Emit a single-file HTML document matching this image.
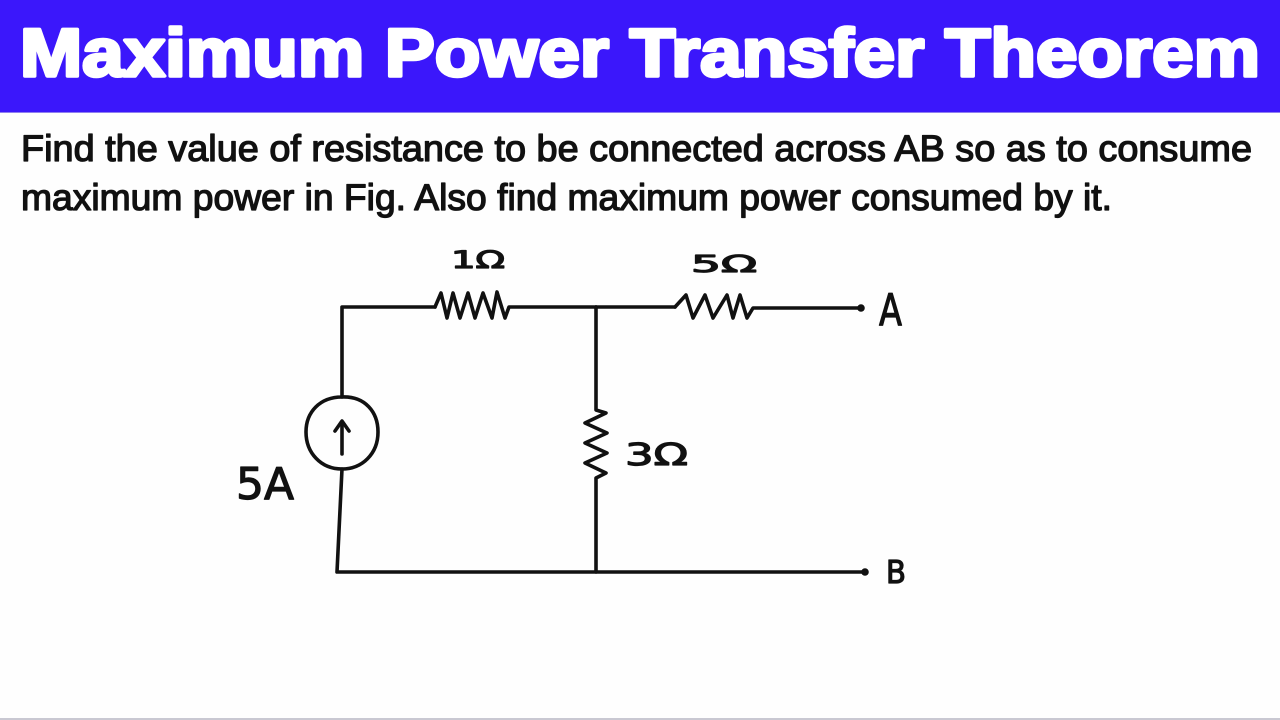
<!DOCTYPE html>
<html>
<head>
<meta charset="utf-8">
<style>
html,body{margin:0;padding:0;background:#fff;}
body{width:1280px;height:720px;overflow:hidden;position:relative;}
svg{position:absolute;left:0;top:0;}
</style>
</head>
<body>
<svg width="1280" height="720" viewBox="0 0 1280 720" xmlns="http://www.w3.org/2000/svg">
  <rect x="0" y="0" width="1280" height="720" fill="#fefefe"/>
  <rect x="0" y="0" width="1280" height="112" fill="#3b17fb"/>
  <line x1="0" y1="112.5" x2="1280" y2="112.5" stroke="#8f7ff0" stroke-width="1"/>
  <text x="20" y="76" font-family="Liberation Sans, sans-serif" font-weight="bold" font-size="68" fill="#ffffff" stroke="#ffffff" stroke-width="3.5" stroke-linejoin="round" textLength="1240" lengthAdjust="spacingAndGlyphs">Maximum Power Transfer Theorem</text>

  <g font-family="Liberation Sans, sans-serif" font-size="37" fill="#111" stroke="#111" stroke-width="1.3" stroke-linejoin="round">
    <text x="21" y="161" textLength="1231" lengthAdjust="spacingAndGlyphs">Find the value of resistance to be connected across AB so as to consume</text>
    <text x="21" y="210" textLength="1091" lengthAdjust="spacingAndGlyphs">maximum power in Fig. Also find maximum power consumed by it.</text>
  </g>

  <g fill="none" stroke="#111" stroke-width="3.6" stroke-linecap="round" stroke-linejoin="round">
    <polyline points="342,397 342,307 435,307"/>
    <polyline points="435,307 441,293 447,318 453,293 460,318 468,293 475,318 483,293 492,318 497,292 505,318 509,307 596,307"/>
    <polyline points="596,307 675,307"/>
    <polyline points="675,307 686,295 693,318 705,295 713,318 727,295 733,318 740,295 747,318 753,308 861,308"/>
    <polyline points="596,307 596,410 606,413 585,423 607,433 585,443 607,453 585,463 606,473 596,478 596,572"/>
    <path d="M342,397 C365,396 378,412 378,432 C378,454 362,469 342,469 C321,469 306,453 306,432 C306,412 320,397 342,397 Z"/>
    <line x1="342" y1="454" x2="342" y2="422"/>
    <polyline points="335,431 342,421 349,431"/>
    <polyline points="342,469 337,572 865,572"/>
  </g>
  <circle cx="861" cy="308" r="3.8" fill="#111"/>
  <circle cx="865" cy="572" r="3.8" fill="#111"/>

  <g font-family="DejaVu Sans, sans-serif" fill="#111" stroke="#111" stroke-width="1.2" stroke-linejoin="round">
    <text x="451" y="268" font-size="24" textLength="54" lengthAdjust="spacingAndGlyphs">1Ω</text>
    <text x="691" y="272" font-size="23" textLength="66" lengthAdjust="spacingAndGlyphs">5Ω</text>
    <text x="625" y="465" font-size="30" textLength="63" lengthAdjust="spacingAndGlyphs">3Ω</text>
    <text x="236" y="499" font-size="44" textLength="58" lengthAdjust="spacingAndGlyphs">5A</text>
    <text x="879" y="325" font-size="44" textLength="23" lengthAdjust="spacingAndGlyphs">A</text>
    <text x="886" y="583" font-size="31" textLength="20" lengthAdjust="spacingAndGlyphs">B</text>
  </g>

  <rect x="0" y="718" width="1280" height="2" fill="#c9c8d2"/>
</svg>
</body>
</html>
